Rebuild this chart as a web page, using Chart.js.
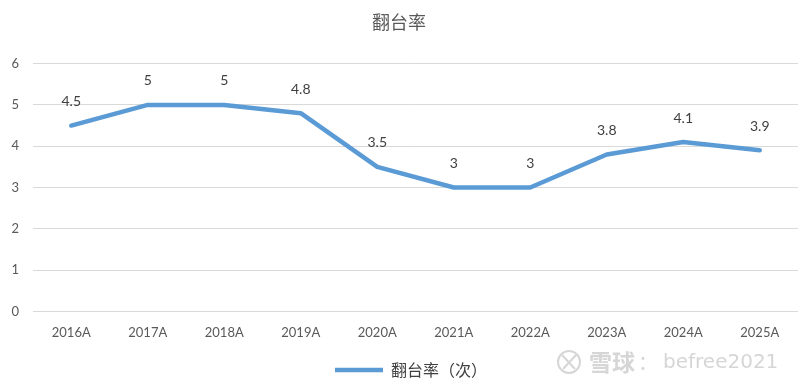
<!DOCTYPE html>
<html lang="zh">
<head>
  <meta charset="UTF-8">
  <title>翻台率</title>
  <script src="https://cdn.jsdelivr.net/npm/chart.js"></script>
  <style>
    html, body {
      margin: 0;
      padding: 0;
      background: #ffffff;
    }
    #wrap {
      position: relative;
      width: 812px;
      height: 388px;
    }
  </style>
</head>
<body>

<div id="wrap">
  <canvas id="turnChart" width="812" height="388"></canvas>
</div>

<script>
  const years = ['2016A', '2017A', '2018A', '2019A', '2020A', '2021A', '2022A', '2023A', '2024A', '2025A'];
  const turnoverRate = [4.5, 5, 5, 4.8, 3.5, 3, 3, 3.8, 4.1, 3.9];
  const yTicks = [0, 1, 2, 3, 4, 5, 6];

  const fontFamily = "Lato, 'Noto Sans CJK SC', sans-serif";

  // numbers above each point
  const pointLabels = {
    id: 'pointLabels',
    afterDatasetsDraw(chart) {
      const ctx = chart.ctx;
      const meta = chart.getDatasetMeta(0);
      ctx.save();
      ctx.font = "14px " + fontFamily;
      ctx.fillStyle = '#404040';
      ctx.textAlign = 'center';
      ctx.textBaseline = 'middle';
      meta.data.forEach((pt, i) => {
        ctx.fillText(String(turnoverRate[i]), pt.x, pt.y - 24);
      });
      ctx.restore();
    }
  };

  // legend sits a bit right of centre in the original
  const legendNudge = {
    id: 'legendNudge',
    afterLayout(chart) {
      if (chart.legend) {
        chart.legend.left += 12;
        chart.legend.right += 12;
      }
    }
  };

  // faint watermark bottom right
  const watermark = {
    id: 'watermark',
    afterDraw(chart) {
      const ctx = chart.ctx;
      ctx.save();
      ctx.strokeStyle = '#d6d6d6';
      ctx.lineWidth = 2;
      ctx.beginPath();
      ctx.arc(569, 362, 11, 0, Math.PI * 2);
      ctx.stroke();
      ctx.beginPath();
      ctx.moveTo(562, 355); ctx.lineTo(575, 369);
      ctx.moveTo(576, 355); ctx.lineTo(563, 369);
      ctx.stroke();
      ctx.fillStyle = '#d6d6d6';
      ctx.textBaseline = 'middle';
      ctx.font = "bold 23px 'Noto Sans CJK SC', sans-serif";
      ctx.fillText('雪球', 589, 362);
      ctx.font = "20px 'Noto Sans CJK SC', sans-serif";
      ctx.fillText('：', 638, 362);
      ctx.font = "20px 'DejaVu Sans', sans-serif";
      ctx.fillText('befree2021', 663, 363);
      ctx.restore();
    }
  };

  const ctx = document.getElementById('turnChart').getContext('2d');
  const turnChart = new Chart(ctx, {
    type: 'line',
    data: {
      labels: years,
      datasets: [{
        label: '翻台率（次）',
        data: turnoverRate,
        borderColor: '#5b9bd5',
        backgroundColor: '#5b9bd5',
        borderWidth: 4.5,
        borderCapStyle: 'round',
        borderJoinStyle: 'round',
        pointRadius: 0,
        tension: 0
      }]
    },
    options: {
      responsive: false,
      animation: false,
      layout: { padding: { left: 0, right: 14, top: 0, bottom: 0 } },
      plugins: {
        tooltip: { enabled: false },
        title: {
          display: true,
          text: '翻台率',
          color: '#595959',
          font: { family: "'Noto Sans CJK SC', sans-serif", size: 18, weight: 'normal' },
          padding: { top: 11, bottom: 31 }
        },
        legend: {
          display: true,
          position: 'bottom',
          labels: {
            color: '#404040',
            font: { family: "'Noto Sans CJK SC', sans-serif", size: 16 },
            usePointStyle: true,
            pointStyle: 'line',
            pointStyleWidth: 48,
            padding: 10
          }
        }
      },
      scales: {
        x: {
          offset: true,
          afterFit(scale) {
            scale.height += 5;
          },
          grid: { display: false },
          border: { display: false },
          ticks: {
            color: '#595959',
            font: { family: fontFamily, size: 13 },
            padding: 6,
            maxRotation: 0
          }
        },
        y: {
          min: 0,
          max: 6,
          afterBuildTicks(scale) {
            scale.ticks = yTicks.map(v => ({ value: v }));
          },
          afterFit(scale) {
            scale.width = 33;
          },
          grid: { color: '#d9d9d9', lineWidth: 1, drawTicks: false },
          border: { display: false },
          ticks: {
            color: '#595959',
            font: { family: fontFamily, size: 13 },
            padding: 14
          }
        }
      }
    },
    plugins: [pointLabels, legendNudge, watermark]
  });
</script>

</body>
</html>
